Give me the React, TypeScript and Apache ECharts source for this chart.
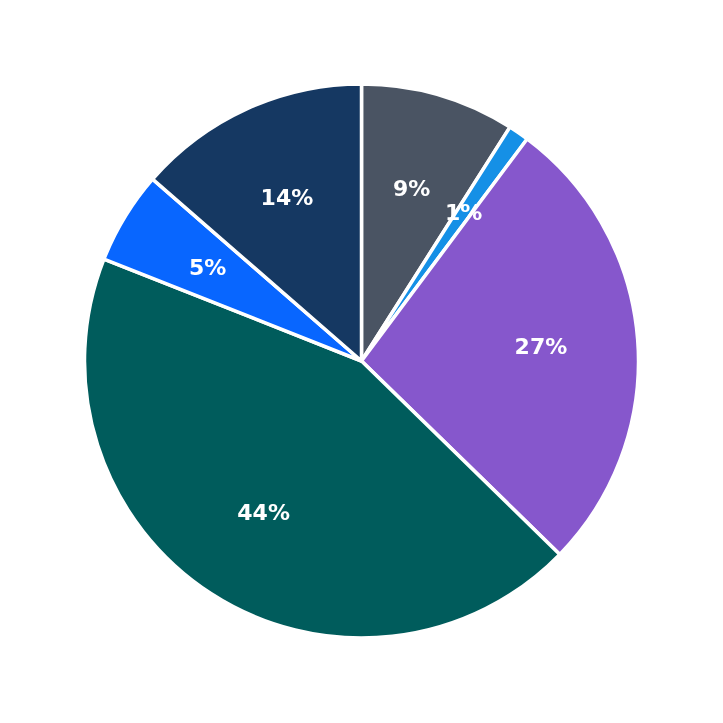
import * as echarts from 'echarts'
import React, { useEffect, useRef } from 'react'

const categories = ['A', 'B', 'C', 'D', 'E', 'F']
const values = [9.0, 1.2, 27.1, 43.7, 5.4, 13.6]
const colors = ['#4a5463', '#1590e6', '#8657cc', '#005c5c', '#0866ff', '#153862']

export default function App() {
  const chartRef = useRef<HTMLDivElement>(null)

  useEffect(() => {
    const chart = echarts.init(chartRef.current, null, { renderer: 'svg' })
    const data = categories.map((name, i) => ({ name, value: values[i] }))
    const total = values.reduce((a, b) => a + b, 0)

    chart.setOption({
      animation: false,
      series: [
        {
          type: 'pie',
          center: [361.5, 361],
          radius: 277,
          startAngle: 90,
          clockwise: true,
          silent: true,
          data,
          color: colors,
          itemStyle: { borderColor: '#ffffff', borderWidth: 3.5 },
          label: { show: false },
          labelLine: { show: false },
        },
        {
          // label layer: inside labels of a larger invisible pie sit at ~65% of the visible radius
          type: 'pie',
          center: [361.5, 361],
          radius: 354,
          startAngle: 90,
          clockwise: true,
          silent: true,
          data,
          itemStyle: { color: 'rgba(0,0,0,0)', borderWidth: 0 },
          label: {
            show: true,
            position: 'inside',
            color: '#ffffff',
            fontFamily: 'DejaVu Sans',
            fontWeight: 'bold',
            fontSize: 22,
            formatter: (p: any) => Math.round((p.value / total) * 100) + '%',
          },
          labelLine: { show: false },
        },
      ],
    })

    return () => {
      chart.dispose()
    }
  }, [])

  return (
    <div
      ref={chartRef}
      style={{ position: 'fixed', left: 0, top: 0, width: '723px', height: '723px' }}
    />
  )
}
